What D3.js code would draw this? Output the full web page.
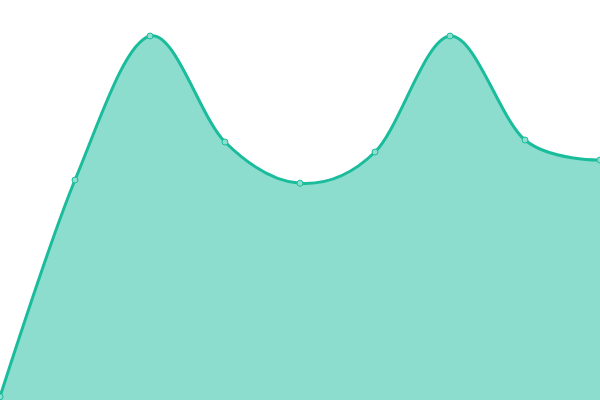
<!DOCTYPE html>
<html>
<head>
<meta charset="utf-8">
<script src="https://cdnjs.cloudflare.com/ajax/libs/d3/7.8.5/d3.min.js"></script>
<style>
  body { margin: 0; background: #fff; }
  svg { display: block; }
</style>
</head>
<body>
<script>
  var width = 600, height = 400;

  // x index and values (0-100 scale)
  var xs = [0, 1, 2, 3, 4, 5, 6, 7, 8];
  var values = [0.8, 55, 91, 64.5, 54.2, 62, 91, 65, 60];

  var data = xs.map(function(d, i) { return {x: d, y: values[i]}; });

  var x = d3.scaleLinear().domain([0, 8]).range([0, width]);
  var y = d3.scaleLinear().domain([0, 100]).range([height, 0]);

  var svg = d3.select("body").append("svg")
    .attr("width", width)
    .attr("height", height);

  var area = d3.area()
    .curve(d3.curveCardinal)
    .x(function(d) { return x(d.x); })
    .y0(height)
    .y1(function(d) { return y(d.y); });

  var line = d3.line()
    .curve(d3.curveCardinal)
    .x(function(d) { return x(d.x); })
    .y(function(d) { return y(d.y); });

  svg.append("path")
    .datum(data)
    .attr("d", area)
    .attr("fill", "#1abc9c")
    .attr("fill-opacity", 0.5);

  svg.append("path")
    .datum(data)
    .attr("d", line)
    .attr("fill", "none")
    .attr("stroke", "#1abc9c")
    .attr("stroke-width", 3);

  svg.selectAll("circle")
    .data(data)
    .enter()
    .append("circle")
    .attr("cx", function(d) { return x(d.x); })
    .attr("cy", function(d) { return y(d.y); })
    .attr("r", 3)
    .attr("fill", "#8ddece")
    .attr("stroke", "#1abc9c")
    .attr("stroke-width", 1);
</script>
</body>
</html>
